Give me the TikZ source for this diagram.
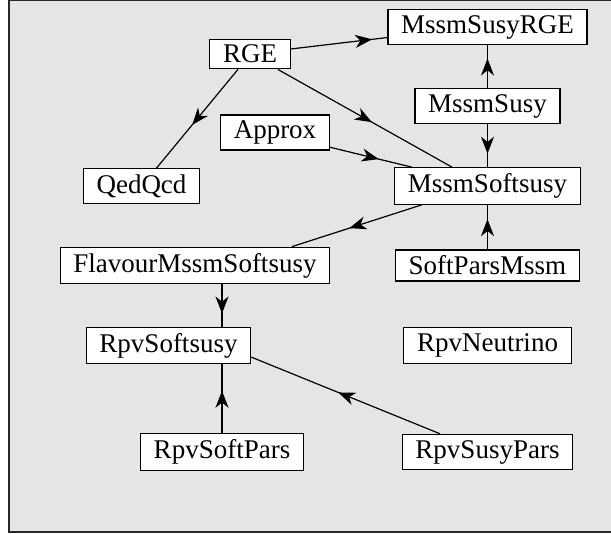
\documentclass[tikz,border=0pt]{standalone}
\usepackage{fontspec}
\setmainfont{Liberation Serif}
\usetikzlibrary{arrows.meta,decorations.markings}
\definecolor{panelgray}{RGB}{229,229,229}
\definecolor{framegray}{RGB}{40,40,40}
\begin{document}
\begin{tikzpicture}[x=0.5pt,y=-0.5pt,
  cls/.style={draw,fill=white,line width=0.6pt,inner xsep=6.6pt,inner ysep=2.9pt,font=\fontsize{13.5}{15}\selectfont},
  dep/.style={line width=0.6pt,postaction={decorate},decoration={markings,mark=at position #1 with {\pgftransformxshift{4pt}\arrow{Stealth[length=8.5pt,width=6.5pt,inset=2.6pt]}}}},
  dep/.default=0.5]
\useasboundingbox(0,0)rectangle(611,534);
\fill[panelgray](8.5,0.5)rectangle(640,531.5);
\draw[framegray,line width=1pt](640,0.5)--(8.5,0.5)--(8.5,531.5)--(640,531.5);
\node[cls](mssmsusyrge)at(487.5,27){MssmSusyRGE};
\node[cls](rge)at(250,54){RGE};
\node[cls](mssmsusy)at(487.5,106){MssmSusy};
\node[cls](approx)at(275,132.5){Approx};
\node[cls](qedqcd)at(141.5,186){QedQcd};
\node[cls](mssmsoftsusy)at(487.5,186){MssmSoftsusy};
\node[cls](flavour)at(195,265.5){FlavourMssmSoftsusy};
\node[cls](softparsmssm)at(487.5,265.5){SoftParsMssm};
\node[cls](rpvsoftsusy)at(168.5,345.5){RpvSoftsusy};
\node[cls](rpvneutrino)at(487.5,345.5){RpvNeutrino};
\node[cls](rpvsoftpars)at(222,452){RpvSoftPars};
\node[cls](rpvsusypars)at(487.5,452){RpvSusyPars};
\draw[dep=0.76](rge.7)--(mssmsusyrge.186);
\draw[dep](rge.331)--(mssmsoftsusy.152);
\draw[dep](rge.232)--(qedqcd.50);
\draw[dep](approx.345)--(mssmsoftsusy.166);
\draw[dep](mssmsusy.north)--(mssmsusyrge.south);
\draw[dep](mssmsusy.south)--(mssmsoftsusy.north);
\draw[dep](softparsmssm.north)--(mssmsoftsusy.south);
\draw[dep](mssmsoftsusy.196)--(flavour.11);
\draw[dep](flavour.south-|rpvsoftpars)--(rpvsoftsusy.north-|rpvsoftpars);
\draw[dep](rpvsoftpars.north)--(rpvsoftsusy.south-|rpvsoftpars);
\draw[dep](rpvsusypars.159)--(rpvsoftsusy.352);
\end{tikzpicture}
\end{document}
